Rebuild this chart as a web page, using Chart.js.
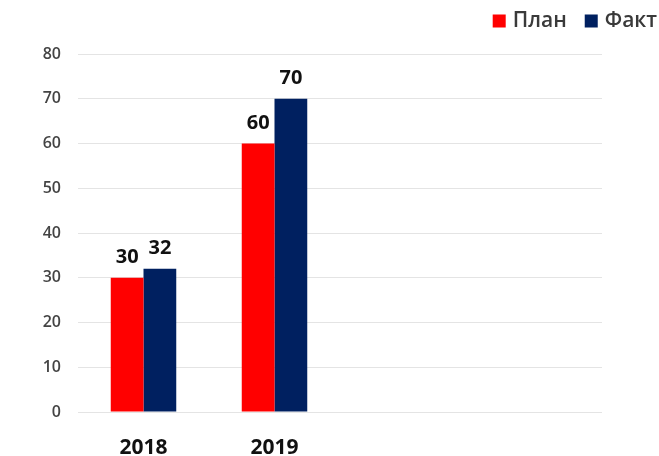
<!DOCTYPE html>
<html>
<head>
<meta charset="utf-8">
<script src="https://cdn.jsdelivr.net/npm/chart.js@4/dist/chart.umd.min.js"></script>
<style>
  html, body { margin: 0; padding: 0; background: #fff; }
  #wrap { width: 659px; height: 456px; }
</style>
</head>
<body>
<div id="wrap"><canvas id="chart" width="659" height="456"></canvas></div>
<script>
'use strict';

// years on the axis; the two trailing slots stay empty
const categories = ['2018', '2019', '', ''];
const planValues = [30, 60, null, null];
const factValues = [32, 70, null, null];
const yTicks = [0, 10, 20, 30, 40, 50, 60, 70, 80];

const FONT = "'Open Sans', sans-serif";

// value labels above each bar
const barValueLabels = {
  id: 'barValueLabels',
  afterDatasetsDraw(chart) {
    const ctx = chart.ctx;
    ctx.save();
    ctx.font = `bold 20px ${FONT}`;
    ctx.fillStyle = '#111';
    ctx.textAlign = 'center';
    ctx.textBaseline = 'alphabetic';
    chart.data.datasets.forEach((ds, i) => {
      chart.getDatasetMeta(i).data.forEach((bar, j) => {
        const v = ds.data[j];
        if (v == null) return;
        ctx.fillText(String(v), bar.x, bar.y - 15);
      });
    });
    ctx.restore();
  }
};

// legend drawn in the top right corner, laid out from the right edge
const cornerLegend = {
  id: 'cornerLegend',
  afterDraw(chart) {
    const ctx = chart.ctx;
    const box = 13, textGap = 7, itemGap = 18, cy = 21;
    ctx.save();
    ctx.font = `600 21px ${FONT}`;
    ctx.textBaseline = 'middle';
    ctx.textAlign = 'left';
    let x = chart.width - 2;
    const items = chart.data.datasets.slice().reverse();
    items.forEach(ds => {
      const w = ctx.measureText(ds.label).width;
      x -= w;
      ctx.fillStyle = '#3a3a3a';
      ctx.fillText(ds.label, x, cy);
      x -= textGap + box;
      ctx.fillStyle = ds.backgroundColor;
      ctx.fillRect(x, cy - box / 2, box, box);
      x -= itemGap;
    });
    ctx.restore();
  }
};

new Chart(document.getElementById('chart').getContext('2d'), {
  type: 'bar',
  data: {
    labels: categories,
    datasets: [
      { label: 'План', data: planValues, backgroundColor: '#ff0000' },
      { label: 'Факт', data: factValues, backgroundColor: '#002060' }
    ]
  },
  options: {
    responsive: false,
    animation: false,
    layout: { padding: 0 },
    datasets: {
      bar: { categoryPercentage: 0.5, barPercentage: 1.0 }
    },
    scales: {
      x: {
        afterFit: scale => { scale.height = 44; },
        grid: { display: false },
        border: { display: false },
        ticks: {
          color: '#111',
          font: { family: FONT, size: 21, weight: 'bold' },
          padding: 15
        }
      },
      // room above the plot for the legend
      gap: {
        position: 'top',
        type: 'category',
        display: true,
        afterFit: scale => { scale.height = 54; },
        grid: { display: false },
        border: { display: false },
        ticks: { display: false }
      },
      y: {
        min: 0,
        max: 80,
        afterBuildTicks: scale => {
          scale.ticks = yTicks.map(v => ({ value: v }));
        },
        afterFit: scale => { scale.width = 78; },
        grid: { color: '#e4e4e4', drawTicks: false },
        border: { display: false },
        ticks: {
          color: '#444',
          font: { family: FONT, size: 16, weight: '600' },
          padding: 17
        }
      },
      right: {
        position: 'right',
        display: true,
        afterFit: scale => { scale.width = 57; },
        grid: { drawOnChartArea: false, drawTicks: false },
        border: { display: false },
        ticks: { display: false }
      }
    },
    plugins: {
      legend: { display: false },
      tooltip: { enabled: false }
    }
  },
  plugins: [barValueLabels, cornerLegend]
});
</script>
</body>
</html>
